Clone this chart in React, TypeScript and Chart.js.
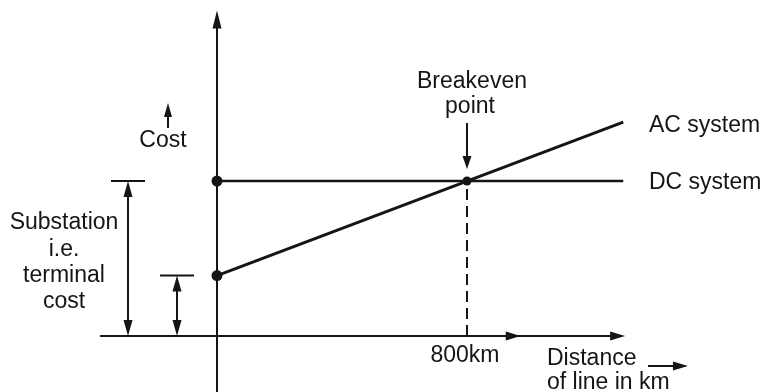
import React, { useEffect, useRef } from "react";
import { Chart, registerables } from "chart.js";

Chart.register(...registerables);

// Distances (km) and costs (relative units)
const distanceKm = [0, 1300];
const dcCost = [100, 100];
const acCost = [39, 138];
const breakevenKm = [800];
const breakevenCost = [100];
const xTickLabels = ["800km"];

const INK = "#151515";
const FONT = "23px 'Liberation Sans', Arial, sans-serif";

function arrowHead(ctx: CanvasRenderingContext2D, tx: number, ty: number, dx: number, dy: number, len = 15, half = 4.5) {
  const l = Math.hypot(dx, dy);
  const ux = dx / l, uy = dy / l;
  const bx = tx - ux * len, by = ty - uy * len;
  ctx.beginPath();
  ctx.moveTo(tx, ty);
  ctx.lineTo(bx - uy * half, by + ux * half);
  ctx.lineTo(bx + uy * half, by - ux * half);
  ctx.closePath();
  ctx.fill();
}

function line(ctx: CanvasRenderingContext2D, x1: number, y1: number, x2: number, y2: number) {
  ctx.beginPath();
  ctx.moveTo(x1, y1);
  ctx.lineTo(x2, y2);
  ctx.stroke();
}

const diagramPlugin = {
  id: "diagram",
  beforeDatasetsDraw(chart: any) {
    const ctx: CanvasRenderingContext2D = chart.ctx;
    const xs = chart.scales.x;
    const ys = chart.scales.y;
    const px = (v: number) => xs.getPixelForValue(v);
    const py = (v: number) => ys.getPixelForValue(v);
    ctx.save();
    ctx.strokeStyle = INK;
    ctx.fillStyle = INK;
    ctx.lineWidth = 2;
    // y axis
    const x0 = px(0), y0 = py(0);
    line(ctx, x0, chart.height, x0, py(205));
    arrowHead(ctx, x0, py(210), 0, -1, 18, 4.5);
    // x axis
    line(ctx, px(-374), y0, px(1290), y0);
    arrowHead(ctx, px(972), y0, 1, 0, 15, 4.5);
    arrowHead(ctx, px(1306), y0, 1, 0, 15, 4.5);
    // dashed line at breakeven
    ctx.setLineDash([11, 6]);
    line(ctx, px(breakevenKm[0]), py(breakevenCost[0]) + 8, px(breakevenKm[0]), y0);
    ctx.setLineDash([]);
    ctx.restore();
  },
  afterDatasetsDraw(chart: any) {
    const ctx: CanvasRenderingContext2D = chart.ctx;
    const xs = chart.scales.x;
    const ys = chart.scales.y;
    const px = (v: number) => xs.getPixelForValue(v);
    const py = (v: number) => ys.getPixelForValue(v);
    const x0 = px(0), y0 = py(0);
    const bx = px(breakevenKm[0]), by = py(breakevenCost[0]);
    const yDc = py(dcCost[0]), yAc = py(acCost[0]);
    ctx.save();
    ctx.strokeStyle = INK;
    ctx.fillStyle = INK;
    ctx.lineWidth = 2;

    // breakeven arrow
    line(ctx, bx, by - 58, bx, by - 20);
    arrowHead(ctx, bx, by - 12, 0, 1, 13, 4.5);

    // cost arrow
    line(ctx, x0 - 49, by - 53, x0 - 49, by - 66);
    arrowHead(ctx, x0 - 49, by - 78, 0, -1, 14, 4);

    // dimension: substation cost (tall)
    const dx1 = x0 - 89;
    line(ctx, dx1 - 17, yDc, dx1 + 17, yDc);
    line(ctx, dx1, yDc + 10, dx1, y0 - 10);
    arrowHead(ctx, dx1, yDc, 0, -1, 16, 4.5);
    arrowHead(ctx, dx1, y0, 0, 1, 16, 4.5);
    // dimension: terminal cost (short)
    const dx2 = x0 - 40;
    line(ctx, dx2 - 17, yAc, dx2 + 17, yAc);
    line(ctx, dx2, yAc + 10, dx2, y0 - 10);
    arrowHead(ctx, dx2, yAc, 0, -1, 16, 4.5);
    arrowHead(ctx, dx2, y0, 0, 1, 16, 4.5);

    // distance arrow
    line(ctx, px(1379), y0 + 30, px(1490), y0 + 30);
    arrowHead(ctx, px(1507), y0 + 30, 1, 0, 15, 4.5);

    // texts
    ctx.font = FONT;
    ctx.textBaseline = "alphabetic";
    ctx.textAlign = "center";
    ctx.fillText("Breakeven", bx + 5, 88);
    ctx.fillText("point", bx + 3, 113);
    ctx.fillText("Cost", x0 - 54, 147);
    ctx.fillText(xTickLabels[0], bx - 2, y0 + 26);
    const sx = 64;
    ctx.fillText("Substation", sx, 229);
    ctx.fillText("i.e.", sx, 256);
    ctx.fillText("terminal", sx, 282);
    ctx.fillText("cost", sx, 308);
    ctx.textAlign = "left";
    ctx.fillText("AC system", 649, 132);
    ctx.fillText("DC system", 649, yDc + 8);
    ctx.fillText("Distance", 547, y0 + 29);
    ctx.fillText("of line in km", 547, y0 + 53);
    ctx.restore();
  },
};

export default function App() {
  const ref = useRef<HTMLCanvasElement | null>(null);
  useEffect(() => {
    document.body.style.margin = "0";
    const canvas = ref.current;
    if (!canvas) return;
    const chart = new Chart(canvas, {
      type: "line",
      data: {
        datasets: [
          {
            label: "DC system",
            data: distanceKm.map((d, i) => ({ x: d, y: dcCost[i] })),
            borderColor: INK,
            backgroundColor: INK,
            borderWidth: 2.5,
            pointRadius: [5.5, 0],
            pointBorderWidth: 0,
          },
          {
            label: "AC system",
            data: distanceKm.map((d, i) => ({ x: d, y: acCost[i] })),
            borderColor: INK,
            backgroundColor: INK,
            borderWidth: 3,
            pointRadius: [5.5, 0],
            pointBorderWidth: 0,
          },
          {
            label: "Breakeven point",
            data: breakevenKm.map((d, i) => ({ x: d, y: breakevenCost[i] })),
            showLine: false,
            borderColor: INK,
            backgroundColor: INK,
            pointRadius: 4.5,
            pointBorderWidth: 0,
          },
        ],
      },
      options: {
        animation: false,
        responsive: false,
        maintainAspectRatio: false,
        layout: { padding: 0, autoPadding: false },
        plugins: { legend: { display: false }, tooltip: { enabled: false }, title: { display: false } },
        events: [],
        scales: {
          x: { type: "linear", min: -694.4, max: 1750.4, display: false },
          y: { type: "linear", min: -36.1, max: 216.8, display: false },
        },
      },
      plugins: [diagramPlugin],
    });
    return () => chart.destroy();
  }, []);
  return (
    <div style={{ position: "fixed", left: 0, top: 0, width: 764, height: 392, background: "#fff" }}>
      <canvas ref={ref} width={764} height={392} style={{ display: "block" }} />
    </div>
  );
}
